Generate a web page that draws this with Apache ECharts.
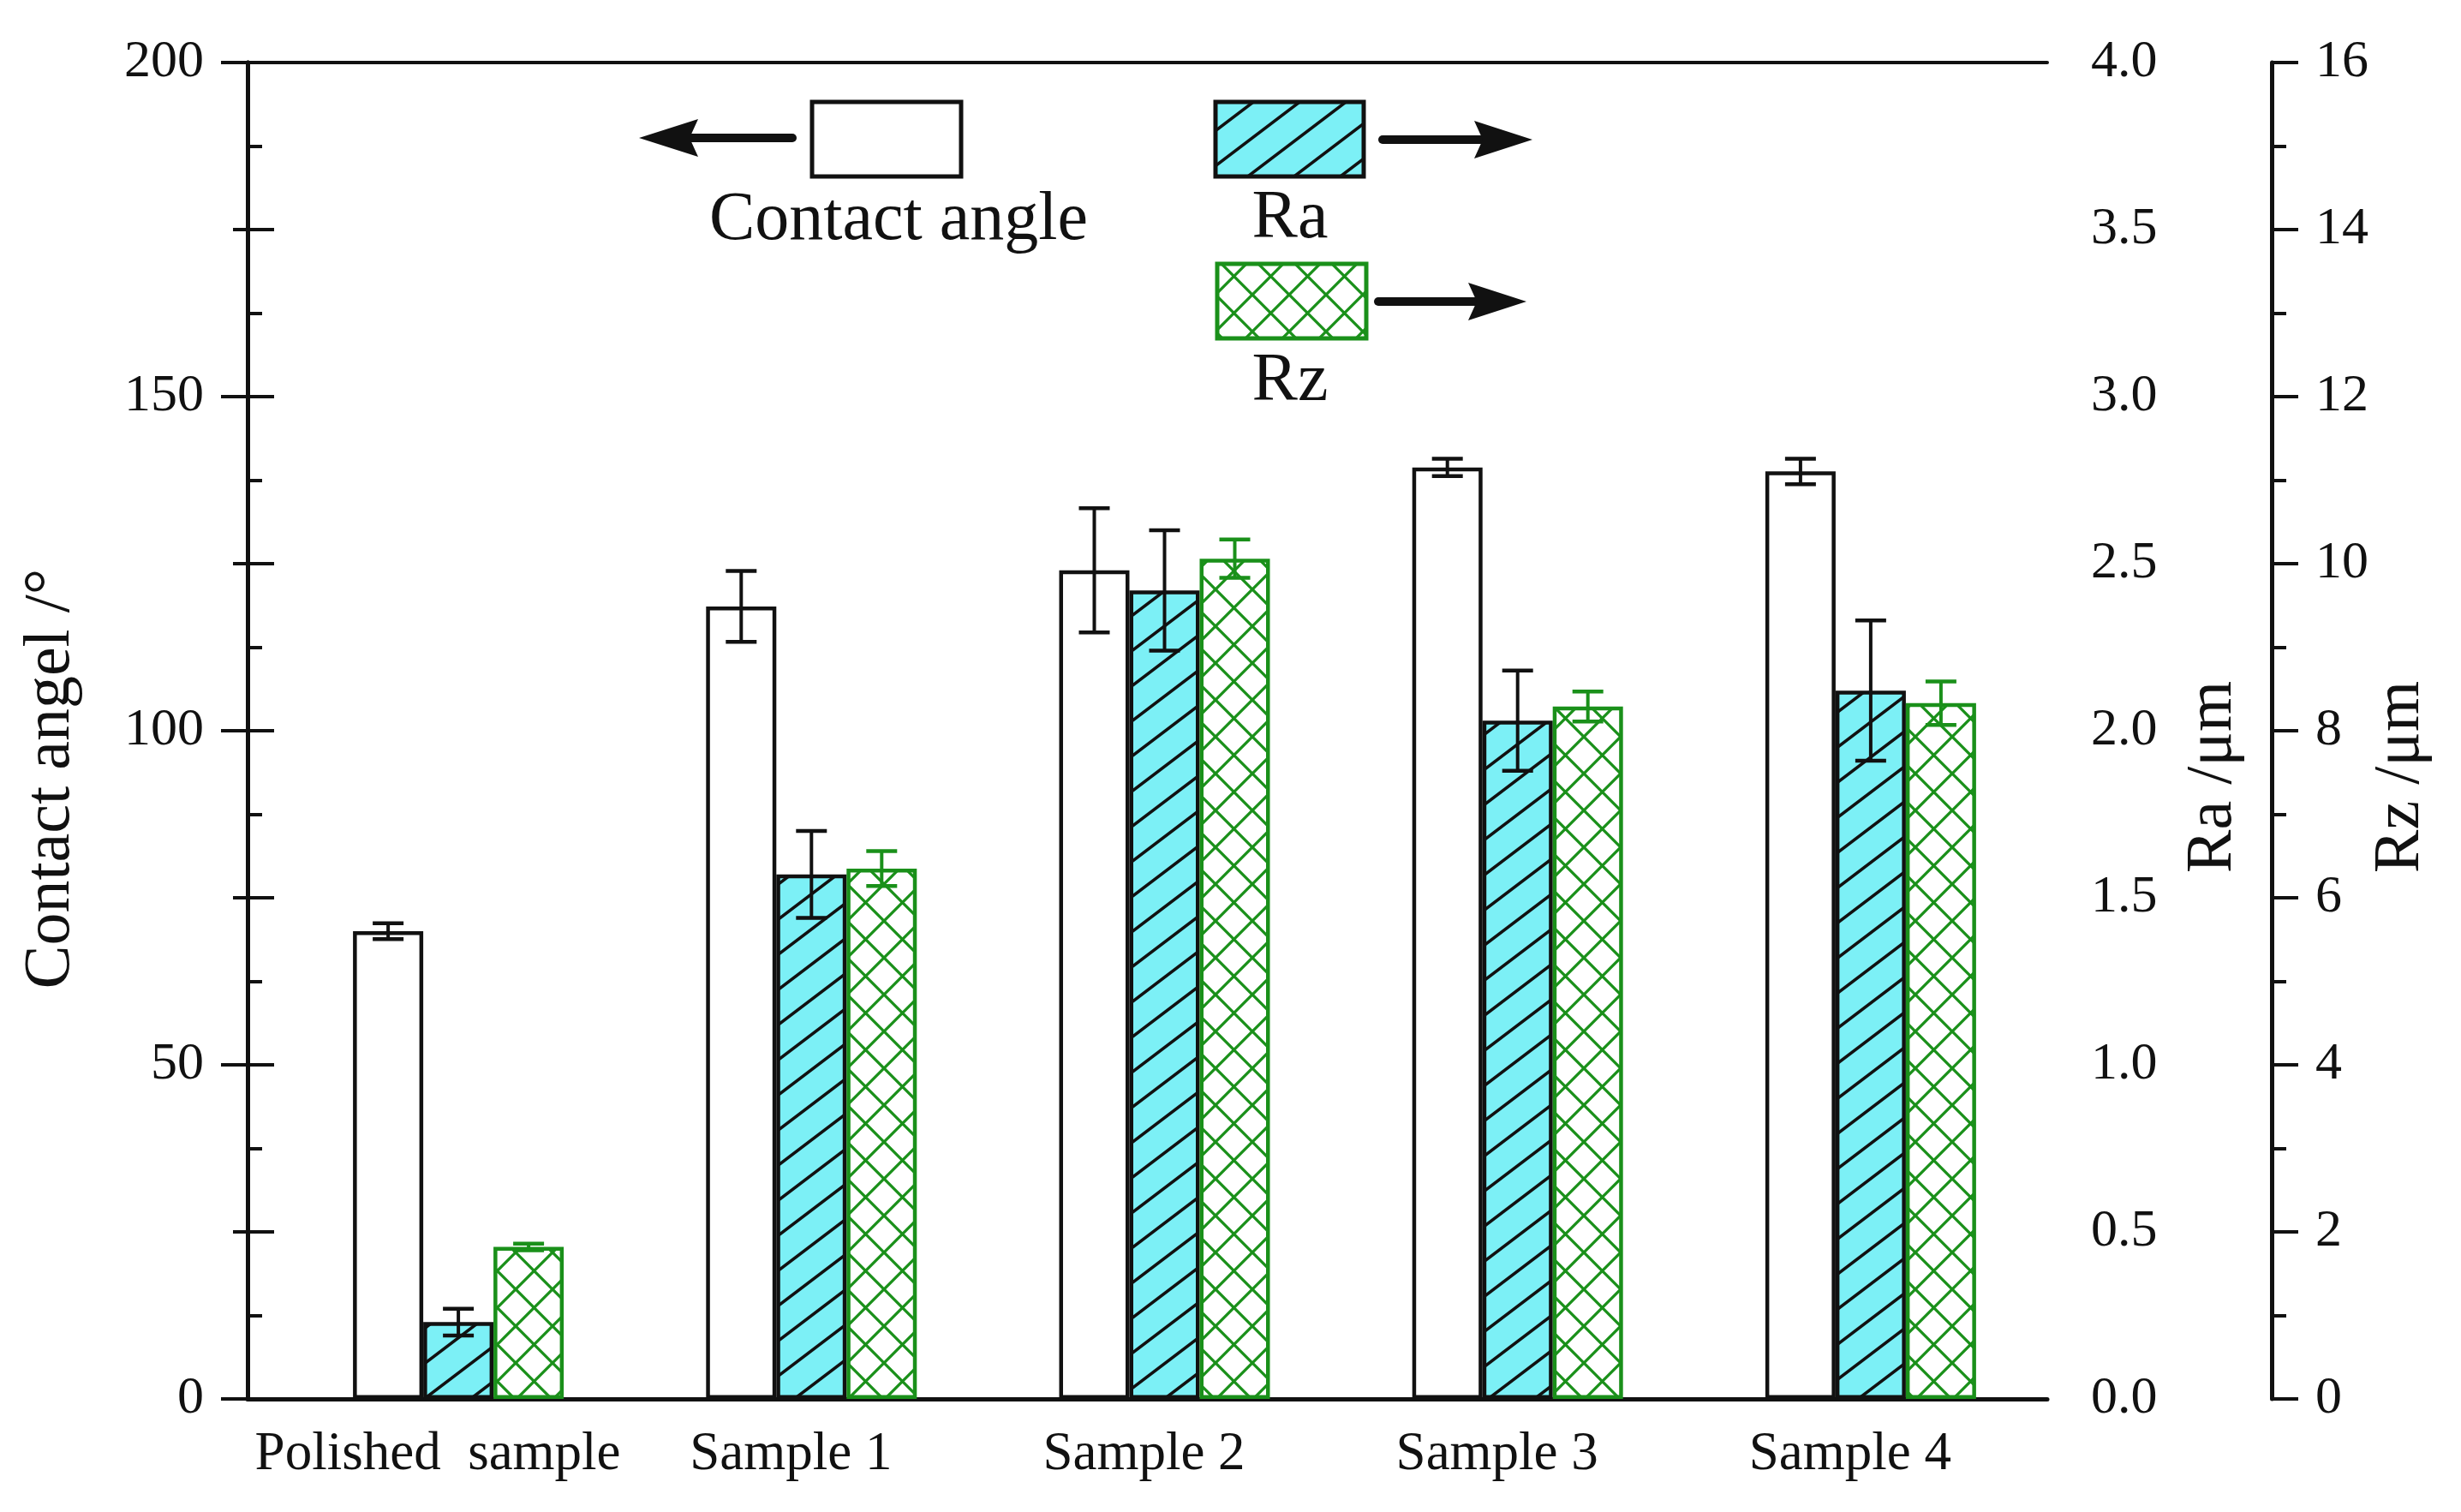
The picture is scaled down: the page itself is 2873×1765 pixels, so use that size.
<!DOCTYPE html>
<html><head><meta charset="utf-8">
<script src="https://cdn.jsdelivr.net/npm/echarts@6/dist/echarts.min.js"></script>
<style>html,body{margin:0;padding:0;background:#fff}#c{width:2873px;height:1765px}</style>
</head><body><div id="c"></div>
<script>
// ---- data ----
const categories = ['Polished  sample', 'Sample 1', 'Sample 2', 'Sample 3', 'Sample 4'];
const contactAngle    = [70.0, 118.6, 124.0, 139.4, 138.8];
const contactAngleErr = [1.2, 5.3, 9.3, 1.3, 1.9];
const raValues = [0.23, 1.57, 2.42, 2.03, 2.12];
const raErr    = [0.04, 0.13, 0.18, 0.15, 0.21];
const rzValues = [1.82, 6.35, 10.06, 8.29, 8.33];
const rzErr    = [0.04, 0.21, 0.23, 0.18, 0.26];
const angleAxisRange = [0, 200, 50];
const raAxisRange = [0, 4, 0.5];
const rzAxisRange = [0, 16, 2];

// ---- styles ----
const FONT = 'Liberation Serif';
const INK = '#111111';
const CYAN = '#7CF0F6';
const GREEN = '#1A901A';

function hatchCanvas() {
  const w = 54, h = 41;
  const c = document.createElement('canvas'); c.width = w; c.height = h;
  const g = c.getContext('2d');
  g.fillStyle = CYAN; g.fillRect(0, 0, w, h);
  g.strokeStyle = INK; g.lineWidth = 3.6; g.beginPath();
  for (const k of [-1, 0, 1]) { g.moveTo(-w, h * (2 + k)); g.lineTo(2 * w, h * (k - 1)); }
  g.stroke();
  return c;
}
function crossCanvas() {
  const w = 43, h = 43;
  const c = document.createElement('canvas'); c.width = w; c.height = h;
  const g = c.getContext('2d');
  g.fillStyle = '#ffffff'; g.fillRect(0, 0, w, h);
  g.strokeStyle = GREEN; g.lineWidth = 3.3; g.beginPath();
  for (const dx of [-w, 0, w]) {
    g.moveTo(dx - w, -h); g.lineTo(dx + 2 * w, 2 * h);
    g.moveTo(dx + 2 * w, -h); g.lineTo(dx - w, 2 * h);
  }
  g.stroke();
  return c;
}
const hatchFill = { image: hatchCanvas(), repeat: 'repeat' };
const crossFill = { image: crossCanvas(), repeat: 'repeat' };

const BAR_W = 82;
function errSeries(vals, errs, yIdx, off, color) {
  return {
    type: 'custom', xAxisIndex: 2, yAxisIndex: yIdx, z: 10, silent: true,
    data: vals.map((v, i) => [i, v, errs[i]]),
    encode: { x: 0, y: 1 },
    renderItem(params, api) {
      const i = api.value(0), v = api.value(1), e = api.value(2);
      const p1 = api.coord([i, v + e]), p2 = api.coord([i, v - e]);
      const x = p1[0] + off, cw = 18;
      return { type: 'group', children: [
        { type: 'line', shape: { x1: x, y1: p1[1], x2: x, y2: p2[1] }, style: { stroke: color, lineWidth: 4 } },
        { type: 'line', shape: { x1: x - cw, y1: p1[1], x2: x + cw, y2: p1[1] }, style: { stroke: color, lineWidth: 4.5 } },
        { type: 'line', shape: { x1: x - cw, y1: p2[1], x2: x + cw, y2: p2[1] }, style: { stroke: color, lineWidth: 4.5 } }
      ] };
    }
  };
}

function valueAxis(range, pos, gridIndex, extra) {
  return Object.assign({
    type: 'value', gridIndex, position: pos, min: range[0], max: range[1], interval: range[2],
    axisLine: { show: true, lineStyle: { color: INK, width: 5 } },
    axisTick: { show: true, inside: false, length: 31, lineStyle: { color: INK, width: 4 } },
    minorTick: { show: true, splitNumber: 2, length: 17, lineStyle: { color: INK, width: 4 } },
    splitLine: { show: false },
    axisLabel: { show: true, margin: 51, fontFamily: FONT, fontSize: 62, color: INK }
  }, extra || {});
}
function hiddenAxis(range, gridIndex) {
  return { type: 'value', gridIndex, min: range[0], max: range[1], show: false, splitLine: { show: false } };
}

const chart = echarts.init(document.getElementById('c'), null, { renderer: 'canvas' });
const option = {
  animation: false,
  backgroundColor: '#ffffff',
  grid: [
    { left: 289, right: 483, top: 73, bottom: 132 },
    { left: 329, right: 483, top: 73, bottom: 132 }
  ],
  xAxis: [
    { type: 'value', gridIndex: 0, position: 'bottom', min: 0, max: 1,
      axisLine: { show: true, onZero: false, lineStyle: { color: INK, width: 5 } },
      axisTick: { show: false }, axisLabel: { show: false }, splitLine: { show: false } },
    { type: 'value', gridIndex: 0, position: 'top', min: 0, max: 1,
      axisLine: { show: true, onZero: false, lineStyle: { color: INK, width: 4 } },
      axisTick: { show: false }, axisLabel: { show: false }, splitLine: { show: false } },
    { type: 'category', gridIndex: 1, position: 'bottom', data: categories,
      axisLine: { show: false }, axisTick: { show: false },
      axisLabel: { show: true, interval: 0, hideOverlap: false, margin: 34, fontFamily: FONT, fontSize: 63, color: INK, padding: [0, 48, 0, 0] } }
  ],
  yAxis: [
    valueAxis(angleAxisRange, 'left', 0),
    valueAxis(raAxisRange, 'right', 0, { offset: 0 }),
    valueAxis(rzAxisRange, 'right', 0, { offset: 262 }),
    hiddenAxis(angleAxisRange, 1),
    hiddenAxis(raAxisRange, 1),
    hiddenAxis(rzAxisRange, 1)
  ],
  series: [
    { type: 'bar', name: 'Contact angle', xAxisIndex: 2, yAxisIndex: 3, data: contactAngle,
      barWidth: BAR_W, barGap: '0%',
      itemStyle: { color: '#ffffff', borderColor: INK, borderWidth: 4.5 } },
    { type: 'bar', name: 'Ra', xAxisIndex: 2, yAxisIndex: 4, data: raValues,
      barWidth: BAR_W, barGap: '0%',
      itemStyle: { color: hatchFill, borderColor: INK, borderWidth: 4.5 } },
    { type: 'bar', name: 'Rz', xAxisIndex: 2, yAxisIndex: 5, data: rzValues,
      barWidth: BAR_W, barGap: '0%',
      itemStyle: { color: crossFill, borderColor: GREEN, borderWidth: 4.5 } },
    errSeries(contactAngle, contactAngleErr, 3, -BAR_W, INK),
    errSeries(raValues, raErr, 4, 0, INK),
    errSeries(rzValues, rzErr, 5, BAR_W, GREEN)
  ],
  graphic: [
    // axis titles
    { type: 'text', x: 60, y: 909, rotation: Math.PI / 2,
      style: { text: 'Contact angel /\u00B0', font: '76px "' + FONT + '"', fill: INK, align: 'center', verticalAlign: 'middle' } },
    { type: 'text', x: 2584, y: 907, rotation: Math.PI / 2,
      style: { text: 'Ra /\u03BCm', font: '76px "' + FONT + '"', fill: INK, align: 'center', verticalAlign: 'middle' } },
    { type: 'text', x: 2803, y: 907, rotation: Math.PI / 2,
      style: { text: 'Rz /\u03BCm', font: '76px "' + FONT + '"', fill: INK, align: 'center', verticalAlign: 'middle' } },
    // legend: contact angle
    { type: 'rect', shape: { x: 948, y: 119, width: 174, height: 87 }, style: { fill: '#fff', stroke: INK, lineWidth: 5 } },
    { type: 'line', shape: { x1: 925, y1: 161, x2: 800, y2: 161 }, style: { stroke: INK, lineWidth: 10, lineCap: 'round' } },
    { type: 'polygon', shape: { points: [[746, 161], [815, 139], [805, 161], [815, 183]] }, style: { fill: INK } },
    { type: 'text', x: 1049, y: 258, style: { text: 'Contact angle', font: '80px "' + FONT + '"', fill: INK, align: 'center', verticalAlign: 'middle' } },
    // legend: Ra
    { type: 'rect', shape: { x: 1419, y: 119, width: 173, height: 87 }, style: { fill: hatchFill, stroke: INK, lineWidth: 5 } },
    { type: 'line', shape: { x1: 1614, y1: 163, x2: 1735, y2: 163 }, style: { stroke: INK, lineWidth: 10, lineCap: 'round' } },
    { type: 'polygon', shape: { points: [[1789, 163], [1721, 141], [1731, 163], [1721, 185]] }, style: { fill: INK } },
    { type: 'text', x: 1506, y: 256, style: { text: 'Ra', font: '80px "' + FONT + '"', fill: INK, align: 'center', verticalAlign: 'middle' } },
    // legend: Rz
    { type: 'rect', shape: { x: 1421, y: 308, width: 174, height: 87 }, style: { fill: crossFill, stroke: GREEN, lineWidth: 5 } },
    { type: 'line', shape: { x1: 1609, y1: 352, x2: 1728, y2: 352 }, style: { stroke: INK, lineWidth: 10, lineCap: 'round' } },
    { type: 'polygon', shape: { points: [[1782, 352], [1714, 330], [1724, 352], [1714, 374]] }, style: { fill: INK } },
    { type: 'text', x: 1506, y: 446, style: { text: 'Rz', font: '80px "' + FONT + '"', fill: INK, align: 'center', verticalAlign: 'middle' } }
  ]
};
option.yAxis[1].axisLabel.formatter = v => v.toFixed(1);
chart.setOption(option);
</script>
</body></html>
